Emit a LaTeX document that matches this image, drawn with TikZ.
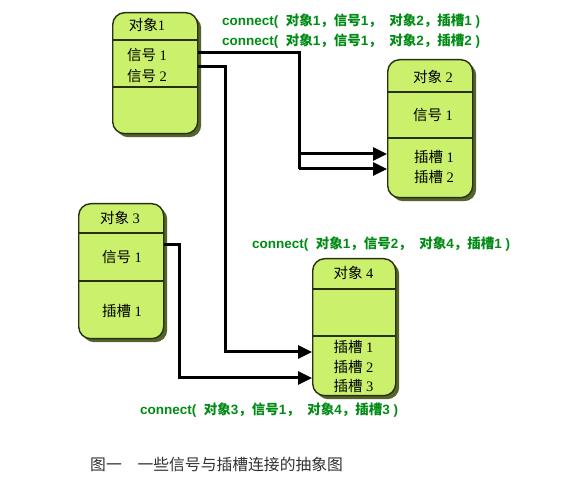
\documentclass[tikz,border=0pt]{standalone}
\usepackage{fontspec}
\setmainfont{Liberation Serif}
\newfontfamily\cjk{Noto Sans CJK SC}
\newfontfamily\lsans{Liberation Sans}
\usetikzlibrary{arrows.meta,shadows}
\definecolor{boxfill}{RGB}{202,240,108}
\definecolor{boxline}{RGB}{40,48,20}
\definecolor{boxshadow}{RGB}{85,100,45}
\definecolor{lblgreen}{RGB}{0,140,20}
\definecolor{capgray}{RGB}{50,50,50}
\newcommand\zh[1]{{\cjk #1}}
\begin{document}
\begin{tikzpicture}[x=1pt,y=-1pt,
  obj/.style 2 args={draw=boxline, line width=1.4pt, fill=boxfill, rounded corners=12pt,
    inner sep=0pt, anchor=north west, minimum width=#1, minimum height=#2,
    drop shadow={shadow xshift=3.5pt, shadow yshift=-3.5pt, fill=boxshadow, opacity=1}},
  divider/.style={draw=boxline, line width=1.2pt},
  boxtxt/.style={font=\fontsize{14.5}{14.5}\selectfont, inner sep=0pt, text=black},
  conn/.style={draw=black, line width=3pt},
  arr/.style={conn, -{Triangle[length=14pt,width=13pt]}},
  lbl/.style={anchor=west, inner sep=0pt, text=lblgreen, font=\lsans\bfseries\fontsize{13.5}{13.5}\selectfont}]
\fill[white] (0,0) rectangle (566,486);
\useasboundingbox (0,0) rectangle (566,486);

% objects
\node[obj={85pt}{121pt}] (o1) at (112,12) {};
\node[obj={85pt}{138pt}] (o2) at (387,59) {};
\node[obj={85pt}{135pt}] (o3) at (78,203) {};
\node[obj={83pt}{137pt}] (o4) at (312,258) {};

% dividers
\draw[divider] (o1.west |- 0,40) -- (o1.east |- 0,40);
\draw[divider] (o1.west |- 0,87) -- (o1.east |- 0,87);
\draw[divider] (o2.west |- 0,92) -- (o2.east |- 0,92);
\draw[divider] (o2.west |- 0,138) -- (o2.east |- 0,138);
\draw[divider] (o3.west |- 0,233) -- (o3.east |- 0,233);
\draw[divider] (o3.west |- 0,281) -- (o3.east |- 0,281);
\draw[divider] (o4.west |- 0,289) -- (o4.east |- 0,289);
\draw[divider] (o4.west |- 0,336) -- (o4.east |- 0,336);

% box texts
\node[boxtxt] (o1t) at (147,25) {\zh{对象}1};
\node[boxtxt] (o1s1) at (147,55) {\zh{信号} 1};
\node[boxtxt] (o1s2) at (147,76) {\zh{信号} 2};
\node[boxtxt] (o2t) at (433,77) {\zh{对象} 2};
\node[boxtxt] (o2s1) at (433,115) {\zh{信号} 1};
\node[boxtxt] (o2p1) at (434,157) {\zh{插槽} 1};
\node[boxtxt] (o2p2) at (434,177) {\zh{插槽} 2};
\node[boxtxt] (o3t) at (120,218) {\zh{对象} 3};
\node[boxtxt] (o3s1) at (122,257) {\zh{信号} 1};
\node[boxtxt] (o3p1) at (122,311) {\zh{插槽} 1};
\node[boxtxt] (o4t) at (353.5,273) {\zh{对象} 4};
\node[boxtxt] (o4p1) at (353.5,347) {\zh{插槽} 1};
\node[boxtxt] (o4p2) at (353.5,367) {\zh{插槽} 2};
\node[boxtxt] (o4p3) at (353.5,386) {\zh{插槽} 3};

% bend points
\coordinate (b1) at (299,53);
\coordinate (b1a) at (299,154);
\coordinate (b1b) at (299,169);
\coordinate (b2) at (225,67);
\coordinate (b2a) at (225,352);
\coordinate (b3) at (179,245);
\coordinate (b3a) at (179,378);

% connectors
\draw[conn] (o1.east |- b1) -- (b1) -- (b1b);
\draw[arr] (b1a) -- (o2.west |- b1a);
\draw[arr] (b1b) -- (o2.west |- b1b);
\draw[arr] (o1.east |- b2) -- (b2) -- (b2a) -- (o4.west |- b2a);
\draw[arr] (o3.east |- b3) -- (b3) -- (b3a) -- (o4.west |- b3a);

% labels
\node[lbl] (l1) at (222,21) {connect(\ \ \zh{对象}1\zh{，信号}1\zh{，}\ \ \zh{对象}2\zh{，插槽}1 )};
\node[lbl] (l2) at (222,41) {connect(\ \ \zh{对象}1\zh{，信号}1\zh{，}\ \ \zh{对象}2\zh{，插槽}2 )};
\node[lbl] (l3) at (252,244) {connect(\ \ \zh{对象}1\zh{，信号}2\zh{，}\ \ \zh{对象}4\zh{，插槽}1 )};
\node[lbl] (l4) at (140,410) {connect(\ \ \zh{对象}3\zh{，信号}1\zh{，}\ \ \zh{对象}4\zh{，插槽}3 )};

% caption
\node[anchor=west, inner sep=0pt, text=capgray, font=\cjk\fontsize{15.8}{16}\selectfont] (cap) at (90,464) {图一　一些信号与插槽连接的抽象图};
\end{tikzpicture}
\end{document}
